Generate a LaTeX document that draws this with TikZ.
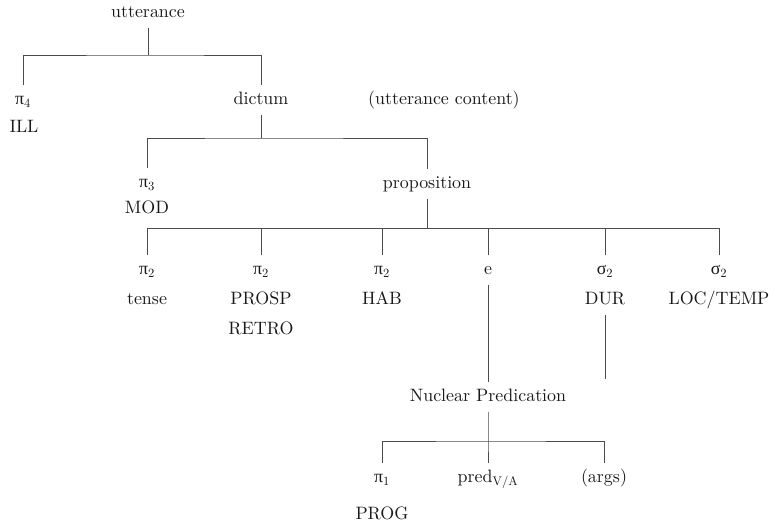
\documentclass[tikz,border=0pt]{standalone}
\usepackage{fontspec}
\setmainfont{lmroman10-regular.otf}
\newfontfamily\grkfont{Liberation Serif}
\usetikzlibrary{positioning}

\newcommand{\gk}[2]{{\grkfont #1}\textsubscript{#2}}

\tikzset{
  lbl/.style={font=\fontsize{18}{22}\selectfont, text=black!90,
    text height=12bp, text depth=3bp, inner xsep=2bp, inner ysep=7bp},
  branch/.style={draw=black!70, line width=0.8bp}
}

\begin{document}
\begin{tikzpicture}[x=1bp,y=-1bp]
    \useasboundingbox (0,0) rectangle (775,528);

    % utterance
    \node[lbl] (utt) at (148,13) {utterance};
    \node[lbl] (pifour) at (23,100) {\gk{π}{4}};
    \node[lbl] (ill) at (24,128) {ILL};
    \node[lbl] (dict) at (261,100) {dictum};
    \node[lbl,anchor=west] (uttc) at (366,100) {(utterance content)};
    \coordinate (bar1) at (148,55);
    \draw[branch] (utt) -- (bar1);
    \draw[branch] (pifour) |- (bar1) -| (dict);

    % dictum
    \node[lbl] (pithree) at (147,183) {\gk{π}{3}};
    \node[lbl] (mod) at (147,209) {MOD};
    \node[lbl] (prop) at (427,184) {proposition};
    \coordinate (bar2) at (261,138);
    \draw[branch] (dict) -- (bar2);
    \draw[branch] (pithree) |- (bar2) -| (prop);

    % proposition
    \coordinate (bar3) at (427,228);
    \draw[branch] (prop) -- (bar3);
    \foreach \name/\x/\top/\bot in {tense/147/{\gk{π}{2}}/tense,
        prosp/261/{\gk{π}{2}}/PROSP, hab/382/{\gk{π}{2}}/HAB,
        dur/605/{\gk{σ}{2}}/DUR, loc/719/{\gk{σ}{2}}/{LOC/TEMP}} {
        \node[lbl] (\name) at (\x,270) {\top};
        \node[lbl] (\name-b) at (\x,300) {\bot};
        \draw[branch] (\name) -- (\name |- bar3);
    }
    \node[lbl] (retro) at (261,330) {RETRO};
    \node[lbl] (e) at (488,270) {e};
    \draw[branch] (e) -- (e |- bar3);
    \draw[branch] (tense |- bar3) -- (loc |- bar3);

    % nuclear predication
    \node[lbl] (np) at (488,397) {Nuclear Predication};
    \draw[branch] (e) -- (np);
    \coordinate (durend) at (605,379);
    \draw[branch] (dur-b) -- (durend);
    \coordinate (bar4) at (488,441);
    \node[lbl] (pione) at (382,478) {\gk{π}{1}};
    \node[lbl] (prog) at (382,515) {PROG};
    \node[lbl] (pred) at (488,478) {pred\textsubscript{V/A}};
    \node[lbl] (args) at (604,478) {(args)};
    \draw[branch] (np) -- (bar4) -- (pred);
    \draw[branch] (pione) |- (bar4) -| (args);
\end{tikzpicture}
\end{document}
